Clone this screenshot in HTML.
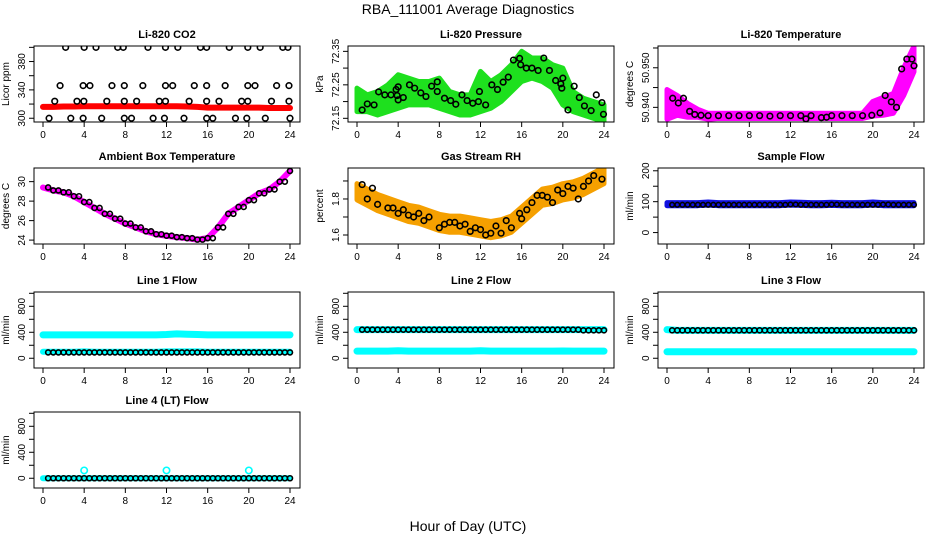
<!DOCTYPE html>
<html><head><meta charset="utf-8"><style>
body{margin:0;background:#fff}
svg{display:block;font-family:"Liberation Sans",sans-serif}
</style></head><body>
<svg id="chart" width="936" height="540" viewBox="0 0 936 540">
<text x="468" y="14" text-anchor="middle" font-size="14">RBA_111001  Average Diagnostics</text>
<text x="468" y="531" text-anchor="middle" font-size="14">Hour of Day (UTC)</text>
</svg>
<script>
// ---------- data ----------
const hours = [0,1,2,3,4,5,6,7,8,9,10,11,12,13,14,15,16,17,18,19,20,21,22,23,24];
const co2LevelHours400 = [2.2,4.0,5.15,7.26,7.8,10.2,11.9,13.1,15.3,15.9,18.1,19.9,21.1,23.3,23.8];
const co2LevelHours346 = [1.66,3.9,4.56,6.7,7.9,9.7,11.9,12.6,14.7,15.9,17.7,19.9,20.6,22.7,23.9];
const co2LevelHours324 = [1.14,3.3,3.97,6.2,7.9,9.1,11.3,11.9,14.2,15.9,17.1,19.3,19.9,22.2,23.9];
const co2LevelHours300 = [0.59,2.7,3.9,5.7,7.9,8.6,10.7,11.8,13.7,15.9,16.5,18.7,19.8,21.6,24.0];
const co2Red = [316,316,316.5,316.5,317,317,317,317,317,317,317,317,317,317,316.5,316,315,315,315,315,315,315,314.5,314.5,314.5];

const presHours = [0.5,1.0,1.66,2.1,2.7,3.3,3.8,3.9,4.0,4.0,4.5,5.1,5.6,6.2,6.7,7.25,7.8,7.8,8.5,9.1,9.6,10.2,10.7,11.25,11.8,11.9,12.5,13.1,13.65,14.2,14.7,15.2,15.8,15.9,16.45,17.0,17.6,18.15,18.7,19.3,19.8,19.9,20.0,20.5,21.1,21.6,22.1,22.75,23.25,23.8,23.95];
const presBlack = [72.175,72.193,72.19,72.229,72.22,72.22,72.236,72.218,72.244,72.205,72.212,72.25,72.24,72.226,72.215,72.246,72.259,72.23,72.21,72.203,72.192,72.22,72.203,72.195,72.2,72.23,72.19,72.25,72.236,72.258,72.273,72.324,72.329,72.31,72.3,72.3,72.293,72.33,72.293,72.263,72.253,72.24,72.27,72.175,72.246,72.212,72.187,72.173,72.22,72.197,72.162];
const presGreenLow = [72.17,72.17,72.16,72.17,72.18,72.19,72.19,72.19,72.18,72.17,72.16,72.16,72.17,72.18,72.2,72.23,72.26,72.27,72.26,72.24,72.19,72.17,72.16,72.15,72.14];
const presGreenHigh = [72.24,72.22,72.23,72.25,72.28,72.27,72.26,72.26,72.27,72.23,72.22,72.22,72.29,72.26,72.28,72.31,72.35,72.33,72.33,72.31,72.3,72.23,72.21,72.2,72.19];

const tempHours = [0.55,1.1,1.6,2.2,2.7,3.3,4,5,6,7,8,9,10,11,12,13,13.5,14,15,15.5,16,17,18,19,19.9,20.7,21.2,21.8,22.3,22.8,23.3,23.8,24.0];
const tempBlack = [50.9423,50.9411,50.9423,50.939,50.9382,50.938,50.9379,50.9379,50.9379,50.9379,50.9379,50.9379,50.9378,50.9379,50.9379,50.9379,50.9371,50.9379,50.9374,50.9375,50.9379,50.9379,50.9379,50.9379,50.938,50.9386,50.943,50.9414,50.94,50.9497,50.9522,50.9522,50.9505];
const tempMagLow = [50.937,50.938,50.9375,50.9375,50.937,50.9372,50.9372,50.9372,50.9372,50.9372,50.9372,50.9372,50.9372,50.9372,50.9372,50.9372,50.9372,50.9372,50.9372,50.9372,50.9378,50.938,50.9385,50.943,50.949];
const tempMagHigh = [50.9445,50.943,50.941,50.9395,50.9385,50.9385,50.9385,50.9385,50.9385,50.9385,50.9385,50.9385,50.9385,50.9385,50.9385,50.9385,50.9385,50.9385,50.9385,50.9385,50.9415,50.9425,50.9435,50.95,50.9555];

const ambient = [29.4,29.1,28.9,28.5,27.9,27.3,26.7,26.2,25.7,25.3,24.9,24.6,24.45,24.3,24.2,24.05,24.2,25.3,26.7,27.4,28.1,28.8,29.2,30.0,31.1];

const rhHours = [0.5,1,1.5,2,3,3.5,4,4.5,5,5.5,6,6.5,7,8,8.5,9,9.5,10,10.5,11,11.5,12,12.5,13,13.5,14,14.5,15,15.8,16,16.5,17,17.5,18,18.5,19,19.5,20,20.5,21,21.5,22,22.5,23,23.8];
const rhBlack = [1.88,1.80,1.86,1.77,1.75,1.75,1.72,1.74,1.71,1.70,1.72,1.68,1.70,1.64,1.66,1.67,1.67,1.65,1.66,1.62,1.64,1.63,1.60,1.61,1.65,1.61,1.68,1.64,1.72,1.69,1.74,1.78,1.82,1.82,1.81,1.78,1.85,1.83,1.87,1.86,1.80,1.87,1.90,1.93,1.91];
const rhBand = [1.84,1.81,1.78,1.76,1.74,1.72,1.71,1.69,1.67,1.66,1.66,1.65,1.64,1.63,1.64,1.66,1.71,1.76,1.81,1.82,1.84,1.85,1.87,1.90,1.93];

const sampleBlack = [90,90,90,90,90,90,90,90,90,90,90,90,91,90,90,90,91,90,90,90,90,91,90,90,90];
const sampleBlue = [92,92,92,92,94,92,92,92,92,92,92,92,94,93,92,92,93,92,92,92,94,92,92,92,92];

const line1Cyan = [360,360,360,360,360,360,360,360,360,360,360,360,365,375,370,365,360,360,360,360,360,360,360,360,360];
const line1CyanLow = [100,100,100,100,105,100,100,100,100,100,100,100,105,105,105,105,100,100,100,100,100,100,100,100,100];
const line1Black = [90,90,90,90,90,90,90,90,90,90,90,90,90,90,90,90,90,90,90,90,90,90,90,90,90];
const line2Cyan = [440,440,440,440,440,440,440,440,440,440,440,440,440,440,440,440,440,440,440,440,440,440,440,440,440];
const line2CyanLow = [110,110,110,110,115,110,110,110,110,110,110,110,115,110,110,110,110,110,110,110,112,110,110,110,110];
const line2Black = [440,440,440,440,440,440,440,440,440,440,440,440,440,440,440,440,440,440,440,440,440,440,430,430,430];
const line3Cyan = [440,430,430,430,430,430,430,430,430,430,430,430,430,430,430,430,430,430,430,430,430,430,430,430,430];
const line3CyanLow = [100,100,100,100,100,100,100,100,100,100,100,100,100,100,100,100,100,100,100,100,100,100,100,100,100];
const line3Black = [430,430,430,430,430,430,430,430,430,430,430,430,430,430,430,430,430,430,430,430,430,430,430,430,430];
const line4Black = [0,0,0,0,0,0,0,0,0,0,0,0,0,0,0,0,0,0,0,0,0,0,0,0,0];
const line4OutHours = [4,12,20];
const line4Out = [120,120,120];

// ---------- drawing ----------
const NS='http://www.w3.org/2000/svg';
const svg=document.getElementById('chart');
function mk(tag,attrs,parent){const e=document.createElementNS(NS,tag);for(const k in attrs)e.setAttribute(k,attrs[k]);(parent||svg).appendChild(e);return e;}
const colL=[34,348,658], rowT=[46,168,292,412], W=266, H=76;

function panel(col,row,title,ylab,ylim,ticks,labels,name){
  const x0=colL[col], y0=rowT[row];
  const g=mk('g',{});
  
  
  const xs=h=>x0+9+h*247/24;
  const ys=v=>y0+H-(v-ylim[0])/(ylim[1]-ylim[0])*H;
  const t=mk('text',{x:x0+W/2,y:y0-8,'text-anchor':'middle','font-size':11,'font-weight':'bold'},g);
  t.textContent=title;
  
  
  const yl=mk('text',{x:0,y:0,'text-anchor':'middle','font-size':10,transform:`translate(${x0-25},${y0+H/2}) rotate(-90)`},g);
  yl.textContent=ylab;
  
  
  // x axis
  const xa=mk('g',{},g);
  
  
  mk('line',{x1:xs(0),x2:xs(24),y1:y0+H,y2:y0+H,stroke:'#000'},xa);
  [0,4,8,12,16,20,24].forEach(h=>{
    mk('line',{x1:xs(h),x2:xs(h),y1:y0+H,y2:y0+H+5,stroke:'#000'},xa);
    const l=mk('text',{x:xs(h),y:y0+H+16,'text-anchor':'middle','font-size':10},xa);l.textContent=h;
  });
  // y axis
  const ya=mk('g',{},g);
  
  
  mk('line',{x1:x0,x2:x0,y1:ys(ticks[0]),y2:ys(ticks[ticks.length-1]),stroke:'#000'},ya);
  ticks.forEach(v=>mk('line',{x1:x0-5,x2:x0,y1:ys(v),y2:ys(v),stroke:'#000'},ya));
  labels.forEach(v=>{const l=mk('text',{x:0,y:0,'text-anchor':'middle','font-size':10,transform:`translate(${x0-9},${ys(v)}) rotate(-90)`},ya);l.textContent=(typeof v==='number'&&ylim[1]<100&&ylim[1]>50)?v.toFixed(ylim[1]>72?2:3):v;});
  const clipId='c'+col+row;
  const cp=mk('clipPath',{id:clipId},g);mk('rect',{x:x0,y:y0,width:W,height:H},cp);
  const data=mk('g',{'clip-path':`url(#${clipId})`},g);
  mk('rect',{x:x0,y:y0,width:W,height:H,fill:'none',stroke:'#000'},g);
  return {g:data,xs,ys};
}
function band(p,hs,lo,hi,color,name){
  let d='M'+hs.map((h,i)=>p.xs(h)+','+p.ys(hi[i])).join('L');
  for(let i=hs.length-1;i>=0;i--)d+='L'+p.xs(hs[i])+','+p.ys(lo[i]);
  const e=mk('path',{d:d+'Z',fill:color,stroke:color,'stroke-width':5,'stroke-linejoin':'round'},p.g);
  
  
}
function thick(p,hs,vals,color,w,name){
  const e=mk('polyline',{points:hs.map((h,i)=>p.xs(h)+','+p.ys(vals[i])).join(' '),fill:'none',stroke:color,'stroke-width':w,'stroke-linecap':'round','stroke-linejoin':'round'},p.g);
  
  
}
function pts(p,hs,vals,color,name,r){
  const g=mk('g',{},p.g);
  
  
  hs.forEach((h,i)=>{const c=mk('circle',{cx:p.xs(h),cy:p.ys(vals[i]),r:r||2.8,fill:'none',stroke:color,'stroke-width':1.6},g);
    
    });
}
function dense(hs){const o=[];for(let i=0;i<hs.length-1;i++){o.push(hs[i]);o.push((hs[i]+hs[i+1])/2);}o.push(hs[hs.length-1]);return o;}
function denseV(v){const o=[];for(let i=0;i<v.length-1;i++){o.push(v[i]);o.push(v[i]);}o.push(v[v.length-1]);return o;}

// CO2
let p=panel(0,0,'Li-820 CO2','Licor ppm',[294.7,401.9],[300,320,340,360,380,400],[300,340,380],'panel-co2');
thick(p,hours,co2Red,'#f00',6,'co2-red-series');
pts(p,co2LevelHours400,co2LevelHours400.map(()=>400),'#000','co2-points-400');
pts(p,co2LevelHours346,co2LevelHours346.map(()=>346),'#000','co2-points-346');
pts(p,co2LevelHours324,co2LevelHours324.map(()=>324),'#000','co2-points-324');
pts(p,co2LevelHours300,co2LevelHours300.map(()=>300),'#000','co2-points-300');
// Pressure
p=panel(1,0,'Li-820 Pressure','kPa',[72.139,72.366],[72.15,72.2,72.25,72.3,72.35],[72.15,72.25,72.35],'panel-pressure');
band(p,hours,presGreenLow,presGreenHigh,'#1ee01e','pressure-green-band');
pts(p,presHours,presBlack,'#000','pressure-black-points');
// Temperature
p=panel(2,0,'Li-820 Temperature','degrees C',[50.9363,50.9555],[50.94,50.945,50.95,50.955],[50.94,50.95],'panel-li820-temp');
band(p,hours,tempMagLow,tempMagHigh,'#f0f','temp-magenta-band');
pts(p,tempHours,tempBlack,'#000','temp-black-points');
// Ambient
p=panel(0,1,'Ambient Box Temperature','degrees C',[23.6,31.4],[24,26,28,30],[24,26,28,30],'panel-ambient');
thick(p,hours,ambient,'#f0f',6,'ambient-magenta-line');
pts(p,dense(hours).slice(1),denseV(ambient).slice(1),'#000','ambient-black-points',2.5);
// RH
p=panel(1,1,'Gas Stream RH','percent',[1.55,1.972],[1.6,1.7,1.8,1.9],[1.6,1.8],'panel-rh');
band(p,hours,rhBand.map(v=>v-0.045),rhBand.map(v=>v+0.045),'#f5a000','rh-orange-band');
pts(p,rhHours,rhBlack,'#000','rh-black-points');
// Sample flow
p=panel(2,1,'Sample Flow','ml/min',[-37,209],[0,50,100,150,200],[0,100,200],'panel-sample-flow');
band(p,hours,sampleBlue.map(v=>v-5),sampleBlue.map(v=>v+5),'#1010e0','sample-blue-band');
pts(p,dense(hours).slice(1),denseV(sampleBlack).slice(1),'#000','sample-black-points',2.3);
const fl=[-150,1020], ft=[0,200,400,600,800,1000], fl2=[0,400,800];
// Line 1
p=panel(0,2,'Line 1 Flow','ml/min',fl,ft,fl2,'panel-line1');
thick(p,hours,line1Cyan,'#0ff',7,'line1-cyan-high');
thick(p,hours,line1CyanLow,'#0ff',6,'line1-cyan-low');
pts(p,dense(hours).slice(1),denseV(line1Black).slice(1),'#000','line1-black-points',2.5);
// Line 2
p=panel(1,2,'Line 2 Flow','ml/min',fl,ft,fl2,'panel-line2');
thick(p,hours,line2Cyan,'#0ff',7,'line2-cyan-high');
thick(p,hours,line2CyanLow,'#0ff',7,'line2-cyan-low');
pts(p,dense(hours).slice(1),denseV(line2Black).slice(1),'#000','line2-black-points',2.5);
// Line 3
p=panel(2,2,'Line 3 Flow','ml/min',fl,ft,fl2,'panel-line3');
thick(p,hours,line3Cyan,'#0ff',7,'line3-cyan-high');
thick(p,hours,line3CyanLow,'#0ff',7,'line3-cyan-low');
pts(p,dense(hours).slice(1),denseV(line3Black).slice(1),'#000','line3-black-points',2.5);
// Line 4
p=panel(0,3,'Line 4 (LT) Flow','ml/min',fl,ft,fl2,'panel-line4');
thick(p,hours,line4Black,'#0ff',6,'line4-cyan');
pts(p,dense(hours).slice(1),denseV(line4Black).slice(1),'#000','line4-black-points',2.5);
pts(p,line4OutHours,line4Out,'#0ff','line4-cyan-outliers',3.2);
</script>
</body></html>
